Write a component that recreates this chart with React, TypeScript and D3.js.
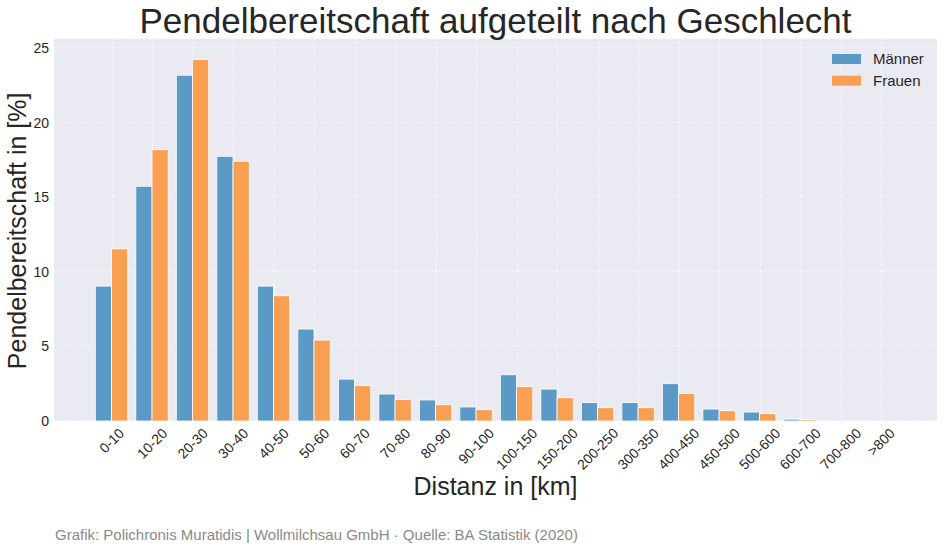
import React from "react";
import * as d3 from "d3";

const categories = ["0-10","10-20","20-30","30-40","40-50","50-60","60-70","70-80","80-90","90-100","100-150","150-200","200-250","300-350","400-450","450-500","500-600","600-700","700-800",">800"];
const maenner = [9.05,15.75,23.2,17.76,9.05,6.17,2.81,1.81,1.41,0.94,3.1,2.14,1.23,1.23,2.5,0.8,0.6,0.12,0.02,0.0];
const frauen = [11.55,18.2,24.26,17.43,8.4,5.43,2.37,1.43,1.09,0.76,2.3,1.56,0.89,0.89,1.85,0.69,0.49,0.1,0.01,0.0];
const yTicks = [0,5,10,15,20,25];
const seriesNames = ["Männer","Frauen"];
const colors = ["#5b99c7","#f99f52"];

const W = 944, H = 551;
const plot = { left: 54, right: 937, top: 38.7, bottom: 421 };
const FONT = "'Liberation Sans', Arial, sans-serif";
const textColor = "#262626";

const charW: Record<string, number> = { "-": 0.333, ">": 0.584 };
function textWidth(s: string, size: number) {
  let w = 0;
  for (const c of s) w += charW[c] ?? 0.556;
  return w * size;
}
const crisp = (v: number) => Math.round(v) + 0.5;

export default function App() {
  const x = d3.scaleLinear().domain([-1.42, 20.38]).range([plot.left, plot.right]);
  const y = d3.scaleLinear().domain([0, 25.65]).range([plot.bottom, plot.top]);
  const bw = 0.4;
  const tickFont = 14;
  return (
    <svg width={W} height={H} style={{ position: "absolute", left: 0, top: 0, background: "#fff" }} fontFamily={FONT}>
      <rect x={plot.left} y={plot.top} width={plot.right - plot.left} height={plot.bottom - plot.top} fill="#eaeaf2" />
      {yTicks.map(t => (
        <line key={"gy" + t} x1={plot.left} x2={plot.right} y1={crisp(y(t)) - 1} y2={crisp(y(t)) - 1} stroke="#fff" strokeWidth={1} strokeDasharray="1,2.2" shapeRendering="crispEdges" />
      ))}
      {categories.map((c, i) => (
        <line key={"gx" + c} x1={crisp(x(i))} x2={crisp(x(i))} y1={plot.top} y2={plot.bottom} stroke="#fff" strokeWidth={1} strokeDasharray="1,1.3" shapeRendering="crispEdges" />
      ))}
      {[maenner, frauen].map((vals, s) => (
        <g key={"s" + s}>
          {vals.map((v, i) => {
            const x0 = x(i - bw + s * bw);
            const x1 = x(i + s * bw);
            return (
              <rect key={i} x={x0} y={y(v)} width={x1 - x0} height={Math.max(0, y(0) - y(v))} fill={colors[s]} stroke="#fff" strokeWidth={0.8} />
            );
          })}
        </g>
      ))}
      {yTicks.map(t => (
        <text key={"ty" + t} x={plot.left - 5} y={y(t)} dy="0.35em" textAnchor="end" fontSize={14} fill={textColor}>{t}</text>
      ))}
      {categories.map((c, i) => {
        const w = textWidth(c, tickFont);
        const h = 0.72 * tickFont;
        const boxH = (w + h) * Math.SQRT1_2;
        const cx = x(i);
        const cy = plot.bottom + 6 + boxH / 2;
        return (
          <text key={"tx" + c} x={cx} y={cy} dy="0.36em" textAnchor="middle" fontSize={tickFont} fill={textColor} transform={`rotate(-45 ${cx} ${cy})`}>{c}</text>
        );
      })}
      <text x={(plot.left + plot.right) / 2} y={33} textAnchor="middle" fontSize={35} fill={textColor}>Pendelbereitschaft aufgeteilt nach Geschlecht</text>
      <text x={(plot.left + plot.right) / 2} y={495} textAnchor="middle" fontSize={25} fill={textColor}>Distanz in [km]</text>
      <text transform={`translate(26 ${(plot.top + plot.bottom) / 2 + 1}) rotate(-90)`} textAnchor="middle" fontSize={25} fill={textColor}>Pendelbereitschaft in [%]</text>
      {seriesNames.map((n, s) => (
        <g key={"lg" + n} transform={`translate(832 ${54 + s * 21.7})`}>
          <rect x={0} y={0} width={29} height={10} fill={colors[s]} />
          <text x={41} y={5} dy="0.36em" fontSize={15} fill={textColor}>{n}</text>
        </g>
      ))}
      <text x={55} y={540} fontSize={15} fill="#8a8a8a">Grafik: Polichronis Muratidis | Wollmilchsau GmbH · Quelle: BA Statistik (2020)</text>
    </svg>
  );
}
